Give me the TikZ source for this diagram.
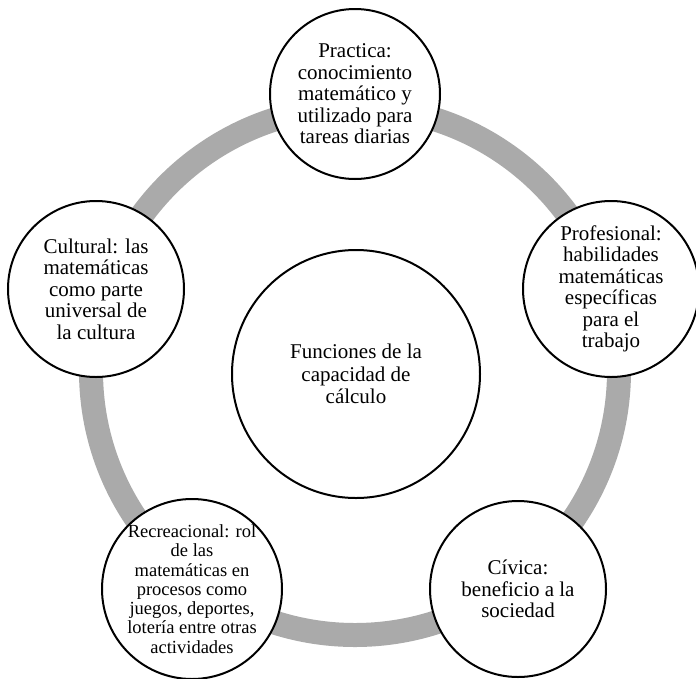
\documentclass[tikz,border=0pt]{standalone}
\usepackage{fontspec}
\setmainfont{Liberation Serif}
\definecolor{ringgray}{RGB}{170,170,170}
\tikzset{
    every node/.style = {inner sep=0pt},
    outer/.style = {circle, draw, line width=2pt, fill=white, minimum size=176pt},
    txt/.style = {align=center, font=\fontsize{21}{21.5}\selectfont},
    smalltxt/.style = {align=center, font=\fontsize{18.5}{19.3}\selectfont}
}

\begin{document}
\begin{tikzpicture}[x=1pt, y=-1pt]
        \useasboundingbox (0,0) rectangle (696,678);

        % the gray ring behind the circles
        \coordinate (mid) at (355,371);
        \draw[ringgray, line width=24pt] (mid) circle (264pt);

        \node[circle, draw, line width=2pt, fill=white, minimum size=248pt,
              label={[txt, font=\fontsize{21}{22.5}\selectfont]center:Funciones de la\\capacidad de\\cálculo}]
              (f) at (356,374) {};

        \node[outer, minimum size=170pt, label={[txt]center:Practica:\\conocimiento\\matemático y\\utilizado para\\tareas diarias}]
              (prac) at (355,94) {};
        \node[outer, label={[txt]center:Profesional:\\habilidades\\matemáticas\\específicas\\para el\\trabajo}]
              (prof) at (611,289) {};
        \node[outer, label={[txt]center:Cívica:\\beneficio a la\\sociedad}]
              (civ) at (518,589) {};
        \node[outer, minimum size=180pt, label={[smalltxt]center:Recreacional: rol\\de las\\matemáticas en\\procesos como\\juegos, deportes,\\lotería entre otras\\actividades}]
              (rec) at (192,589) {};
        \node[outer, label={[txt]center:Cultural: las\\matemáticas\\como parte\\universal de\\la cultura}]
              (cult) at (96,289) {};
    \end{tikzpicture}
\end{document}
